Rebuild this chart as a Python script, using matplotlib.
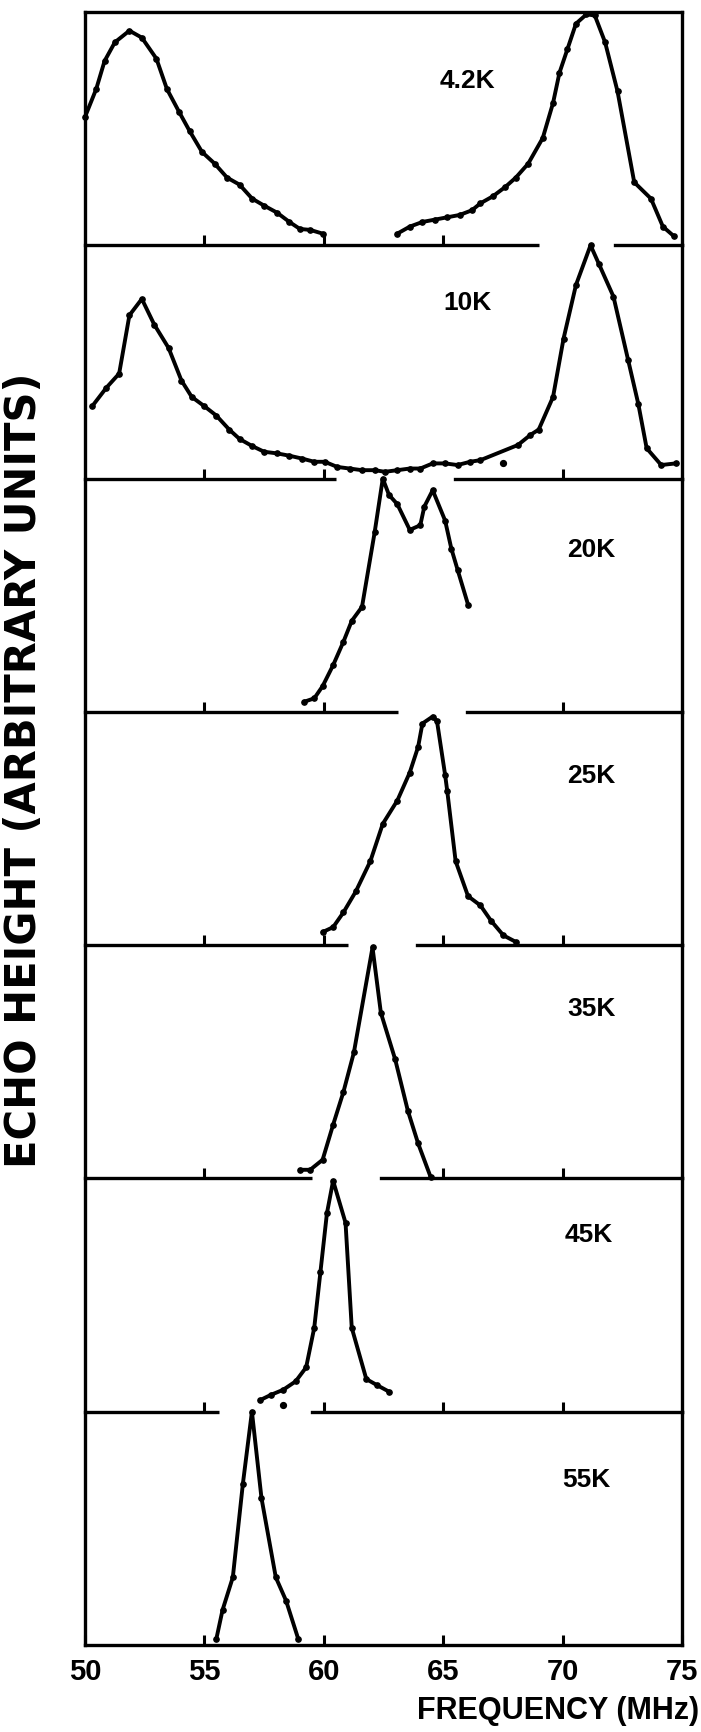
import matplotlib
matplotlib.use("Agg")
import matplotlib.pyplot as plt

plt.rcParams['font.family'] = ['Liberation Sans', 'DejaVu Sans']
plt.rcParams['font.weight'] = 'bold'

# temperatures (panel labels), top to bottom
temps = ['4.2K', '10K', '20K', '25K', '35K', '45K', '55K']

# echo height (fraction of panel height), freq in MHz
f_4k_lo = [50.0, 50.47, 50.82, 51.25, 51.86, 52.38, 52.99, 53.43, 53.95, 54.38, 54.9,
           55.43, 55.95, 56.47, 57.0, 57.5, 58.04, 58.56, 59.0, 59.43, 59.95]
h_4k_lo = [0.55, 0.67, 0.79, 0.87, 0.92, 0.89, 0.80, 0.67, 0.57, 0.49, 0.40,
           0.35, 0.29, 0.26, 0.20, 0.17, 0.14, 0.10, 0.07, 0.066, 0.05]
f_4k_hi = [63.08, 63.6, 64.13, 64.65, 65.17, 65.69, 66.2, 66.56, 67.08, 67.6, 68.04, 68.56,
           69.17, 69.6, 69.87, 70.2, 70.56, 71.0, 71.35, 71.78, 72.3, 73.0, 73.7, 74.2, 74.65]
h_4k_hi = [0.05, 0.08, 0.10, 0.11, 0.12, 0.13, 0.15, 0.18, 0.21, 0.25, 0.29, 0.35,
           0.46, 0.61, 0.74, 0.84, 0.95, 0.99, 0.985, 0.87, 0.66, 0.27, 0.20, 0.08, 0.04]

f_10k = [50.3, 50.9, 51.43, 51.86, 52.38, 52.9, 53.5, 54.04, 54.47, 55.0,
         55.5, 56.04, 56.47, 56.99, 57.5, 58.04, 58.56, 59.08, 59.6, 60.04,
         60.56, 61.08, 61.6, 62.13, 62.56, 63.08, 63.6, 64.04, 64.56, 65.08,
         65.6, 66.13, 66.56, 68.13, 68.65, 69.0, 69.6, 70.04, 70.56, 71.17,
         71.52, 72.13, 72.74, 73.17, 73.52, 74.13, 74.73]
h_10k = [0.31, 0.39, 0.45, 0.70, 0.77, 0.66, 0.56, 0.42, 0.35, 0.31,
         0.27, 0.21, 0.17, 0.14, 0.115, 0.108, 0.098, 0.086, 0.072, 0.072,
         0.05, 0.043, 0.036, 0.036, 0.029, 0.036, 0.043, 0.043, 0.065, 0.065,
         0.058, 0.072, 0.079, 0.144, 0.187, 0.21, 0.35, 0.60, 0.83, 1.0,
         0.92, 0.78, 0.51, 0.32, 0.13, 0.058, 0.065]
f_10k_stray = [67.52]
h_10k_stray = [0.065]

f_20k = [59.17, 59.6, 59.95, 60.39, 60.82, 61.17, 61.6, 62.13, 62.47, 62.73,
         63.08, 63.6, 64.04, 64.21, 64.56, 65.08, 65.34, 65.6, 66.04]
h_20k = [0.043, 0.058, 0.11, 0.20, 0.30, 0.39, 0.45, 0.77, 1.0, 0.93,
         0.89, 0.78, 0.80, 0.88, 0.95, 0.82, 0.70, 0.61, 0.46]

f_25k = [59.95, 60.39, 60.82, 61.34, 61.95, 62.47, 63.08, 63.6, 63.95, 64.13,
         64.56, 64.74, 65.08, 65.17, 65.52, 66.04, 66.56, 67.0, 67.52, 68.04]
h_25k = [0.056, 0.077, 0.14, 0.23, 0.36, 0.52, 0.62, 0.74, 0.85, 0.95,
         0.98, 0.96, 0.73, 0.66, 0.36, 0.21, 0.17, 0.105, 0.042, 0.014]

f_35k = [59.0, 59.43, 59.95, 60.39, 60.82, 61.26, 62.04, 62.39, 62.99, 63.52, 63.95, 64.47]
h_35k = [0.037, 0.037, 0.08, 0.23, 0.37, 0.54, 0.99, 0.71, 0.51, 0.29, 0.15, 0.007]

f_45k = [57.34, 57.78, 58.3, 58.82, 59.26, 59.6, 59.86, 60.13, 60.39, 60.91,
         61.17, 61.78, 62.21, 62.73]
h_45k = [0.05, 0.072, 0.094, 0.13, 0.19, 0.36, 0.60, 0.85, 0.99, 0.81,
         0.36, 0.14, 0.115, 0.086]
f_45k_stray = [58.3]
h_45k_stray = [0.03]

f_55k = [55.5, 55.76, 56.19, 56.61, 56.99, 57.39, 57.99, 58.42, 58.93]
h_55k = [0.026, 0.15, 0.29, 0.69, 1.0, 0.63, 0.29, 0.19, 0.026]

# gaps in each panel's baseline (MHz), where the next curve breaks through
gaps = [[(69.0, 72.2)], [(60.5, 65.5)], [(63.1, 66.0)], [(61.0, 63.9)],
        [(59.5, 62.4)], [(55.6, 59.5)], []]

xticks = [50, 55, 60, 65, 70, 75]
xmin, xmax = 50, 75

curves = [
    [(f_4k_lo, h_4k_lo), (f_4k_hi, h_4k_hi)],
    [(f_10k, h_10k)],
    [(f_20k, h_20k)],
    [(f_25k, h_25k)],
    [(f_35k, h_35k)],
    [(f_45k, h_45k)],
    [(f_55k, h_55k)],
]
strays = {1: (f_10k_stray, h_10k_stray), 5: (f_45k_stray, h_45k_stray)}
label_x = [66.0, 66.0, 71.2, 71.2, 71.2, 71.1, 71.0]
label_y = [0.71, 0.755, 0.70, 0.73, 0.73, 0.76, 0.71]

W, H = 701, 1733
fig = plt.figure(figsize=(W / 100, H / 100), dpi=100)
gs = fig.add_gridspec(7, 1, left=85 / W, right=682 / W, top=1 - 13 / H,
                      bottom=1 - 1646 / H, hspace=0)

lw = 2.4
for i in range(7):
    ax = fig.add_subplot(gs[i])
    ax.patch.set_visible(False)
    ax.set_xlim(xmin, xmax)
    ax.set_ylim(0, 1)
    for sp in ['left', 'right', 'top']:
        ax.spines[sp].set_linewidth(lw)
    ax.spines['bottom'].set_visible(False)
    if i > 0:
        ax.spines['top'].set_visible(False)

    # baseline with gaps
    start = xmin
    for g0, g1 in gaps[i]:
        ax.plot([start, g0], [0, 0], color='black', lw=lw, clip_on=False,
                solid_capstyle='butt')
        start = g1
    ax.plot([start, xmax], [0, 0], color='black', lw=lw, clip_on=False,
            solid_capstyle='projecting')

    for f, h in curves[i]:
        ax.plot(f, h, color='black', lw=2.8, marker='o', ms=3.8, clip_on=False,
                solid_joinstyle='round', solid_capstyle='round')
    if i in strays:
        ax.plot(strays[i][0], strays[i][1], 'o', color='black', ms=4.2)

    ax.text(label_x[i], label_y[i], temps[i], fontsize=19, fontweight='bold',
            ha='center', va='center')

    ax.set_yticks([])
    tk = [t for t in xticks[1:-1]
          if not any(g0 < t < g1 for g0, g1 in gaps[i])]
    if i == 6:
        tk = xticks
    ax.set_xticks(tk)
    ax.tick_params(axis='x', direction='in', length=7, width=2.2, pad=9,
                   labelsize=21)
    if i < 6:
        ax.tick_params(axis='x', labelbottom=False)
    else:
        for lab in ax.get_xticklabels():
            lab.set_fontweight('bold')

fig.text(699 / W, 1 - 1711 / H, 'FREQUENCY (MHz)', fontsize=22, fontweight='bold',
         ha='right', va='center')
fig.text(24 / W, 1 - 770 / H, 'ECHO HEIGHT (ARBITRARY UNITS)', fontsize=30,
         fontweight='bold', rotation=90, ha='center', va='center',
         family=['DejaVu Sans'])

fig.savefig('out.png', dpi=100, facecolor='white')
